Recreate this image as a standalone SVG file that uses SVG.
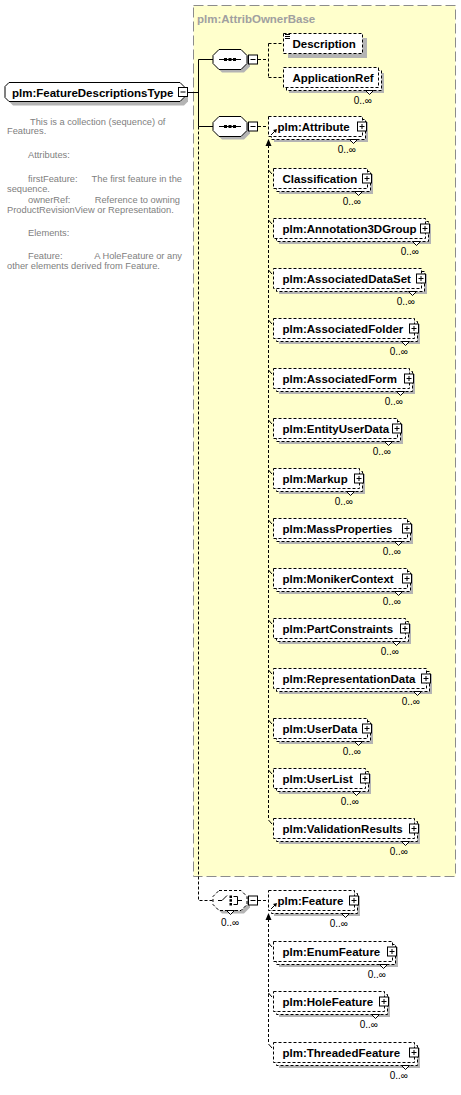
<svg xmlns="http://www.w3.org/2000/svg" width="461" height="1095" viewBox="0 0 461 1095">
<style>
.bg{fill:#ffffcc;stroke:#8c8c8c;stroke-dasharray:10 4}
.sh{fill:#b4b4b4}
.bx{fill:#fff;stroke:#000;stroke-dasharray:3 2}
.sb{fill:#fff;stroke:#000}
.nt{fill:#fff;stroke:#000}
.lbl{font-family:"Liberation Sans",Arial,sans-serif;font-weight:bold;font-size:11.5px;fill:#000}
.occ{font-family:"Liberation Sans",Arial,sans-serif;font-size:10px;fill:#000}
.ttl{font-family:"Liberation Sans",Arial,sans-serif;font-weight:bold;font-size:11.5px;fill:#a0a0a0}
.d{font-family:"Liberation Sans",Arial,sans-serif;font-size:9.3px;fill:#808080}
.pm{fill:#fff;stroke:#000}
.ln{fill:none;stroke:#000}
.dl{fill:none;stroke:#000;stroke-dasharray:3 2}
</style>
<rect class="bg" x="193.5" y="5.5" width="262" height="871"/>
<text class="ttl" x="197" y="23">plm:AttribOwnerBase</text>

<g id="connectors">
<path class="ln" d="M188 92.5H198.5M198.5 59.5V126.5M198.5 59.5H213M198.5 126.5H213"/>
<path class="dl" d="M198.5 126.5V900.5H213"/>
<path class="dl" d="M258 59.5H268.5M268.5 43.5V77.5M268.5 43.5H283M268.5 77.5H283"/>
<path class="dl" d="M258 126.5H268"/>
<path class="dl" d="M268.5 145V820"/>
<polygon points="265.5,146 268.5,139 271.5,146" fill="#000"/>
<path class="ln" d="M268.5 170L272 174M268.5 220L272 224M268.5 270L272 274M268.5 320L272 324M268.5 370L272 374M268.5 420L272 424M268.5 470L272 474M268.5 520L272 524M268.5 570L272 574M268.5 620L272 624M268.5 670L272 674M268.5 720L272 724M268.5 770L272 774M268.5 820L272 824"/>
<path class="dl" d="M258 900.5H268"/>
<path class="dl" d="M268.5 919V1044"/>
<polygon points="265.5,920 268.5,913 271.5,920" fill="#000"/>
<path class="ln" d="M268.5 943L272 947M268.5 993L272 997M268.5 1044L272 1048"/>
</g>

<g id="n-main">
<polygon class="sh" points="13,86.5 184,86.5 188,90.5 188,101.5 184,105.5 13,105.5 9,101.5 9,90.5"/>
<polygon class="sb" points="9,82.5 180,82.5 184,86.5 184,97.5 180,101.5 9,101.5 5,97.5 5,86.5"/>
<text class="lbl" x="12" y="96.5">plm:FeatureDescriptionsType</text>
<rect class="pm" x="178.5" y="87.5" width="9" height="9"/>
<path class="ln" d="M180.5 92H185.5"/>
</g>

<g id="n-doc">
<text class="d" x="30" y="125">This is a collection (sequence) of</text>
<text class="d" x="7" y="134">Features.</text>
<text class="d" x="28" y="158">Attributes:</text>
<text class="d" x="28" y="182">firstFeature:</text>
<text class="d" x="182" y="182" text-anchor="end">The first feature in the</text>
<text class="d" x="7" y="192">sequence.</text>
<text class="d" x="28" y="203">ownerRef:</text>
<text class="d" x="180" y="203" text-anchor="end">Reference to owning</text>
<text class="d" x="7" y="213">ProductRevisionView or Representation.</text>
<text class="d" x="28" y="236">Elements:</text>
<text class="d" x="28" y="259">Feature:</text>
<text class="d" x="182" y="259" text-anchor="end">A HoleFeature or any</text>
<text class="d" x="7" y="269">other elements derived from Feature.</text>
</g>

<g id="n-seq1">
<polygon class="sh" points="222,52.5 244,52.5 250,58.5 250,66.5 244,72.5 222,72.5 216,66.5 216,58.5"/>
<polygon class="sb" points="219,49.5 241,49.5 247,55.5 247,63.5 241,69.5 219,69.5 213,63.5 213,55.5"/>
<path class="ln" d="M219 59.5H241"/>
<rect x="224" y="58" width="3" height="3"/><rect x="228.5" y="58" width="3" height="3"/><rect x="233" y="58" width="3" height="3"/>
<rect class="pm" x="248.5" y="55" width="9" height="9"/>
<path class="ln" d="M250.5 59.5H255.5"/>
</g>

<g id="n-seq2">
<polygon class="sh" points="222,119.5 244,119.5 250,125.5 250,133.5 244,139.5 222,139.5 216,133.5 216,125.5"/>
<polygon class="sb" points="219,116.5 241,116.5 247,122.5 247,130.5 241,136.5 219,136.5 213,130.5 213,122.5"/>
<path class="ln" d="M219 126.5H241"/>
<rect x="224" y="125" width="3" height="3"/><rect x="228.5" y="125" width="3" height="3"/><rect x="233" y="125" width="3" height="3"/>
<rect class="pm" x="248.5" y="122" width="9" height="9"/>
<path class="ln" d="M250.5 126.5H255.5"/>
</g>

<g id="n-description">
<rect class="sh" x="288" y="38" width="79" height="20"/>
<rect class="bx" x="283.5" y="33.5" width="79" height="20"/>
<path class="ln" d="M285 34.5H290M285 36.5H290M285 38.5H290"/>
<text class="lbl" x="292.5" y="47.5">Description</text>
</g>

<g id="n-applicationref">
<rect class="sh" x="289" y="73" width="95" height="20"/>
<rect class="bx" x="286.5" y="70.5" width="95" height="20"/>
<rect class="bx" x="283.5" y="67.5" width="95" height="20"/>
<polygon class="nt" points="365.5,90.5 369.5,94.5 373.5,90.5"/>
<text class="lbl" x="292.5" y="81.5">ApplicationRef</text>
<text class="occ" x="372" y="104" text-anchor="end">0..∞</text>
</g>

<g id="n-attribute">
<rect class="sh" x="274" y="122" width="94" height="20"/>
<rect class="bx" x="271.5" y="119.5" width="94" height="20"/>
<rect class="bx" x="268.5" y="116.5" width="94" height="20"/>
<polygon class="nt" points="349.5,139.5 353.5,143.5 357.5,139.5"/>
<text class="lbl" x="277.5" y="130.5">plm:Attribute</text>
<path class="ln" d="M271 135L275.5 130.5"/><polygon points="273,130 277,129 276,133"/>
<rect class="pm" x="357.5" y="122" width="9" height="9"/>
<path class="ln" d="M359.5 126.5H364.5M362 124V129"/>
<text class="occ" x="356" y="153" text-anchor="end">0..∞</text>
</g>

<g id="n-classification">
<rect class="sh" x="279" y="174" width="94" height="20"/>
<rect class="bx" x="276.5" y="171.5" width="94" height="20"/>
<rect class="bx" x="273.5" y="168.5" width="94" height="20"/>
<polygon class="nt" points="354.5,191.5 358.5,195.5 362.5,191.5"/>
<text class="lbl" x="282.5" y="182.5">Classification</text>
<rect class="pm" x="362.5" y="174" width="9" height="9"/>
<path class="ln" d="M364.5 178.5H369.5M367 176V181"/>
<text class="occ" x="361" y="205" text-anchor="end">0..∞</text>
</g>

<g id="n-annotation3dgroup">
<rect class="sh" x="279" y="224" width="152" height="20"/>
<rect class="bx" x="276.5" y="221.5" width="152" height="20"/>
<rect class="bx" x="273.5" y="218.5" width="152" height="20"/>
<polygon class="nt" points="412.5,241.5 416.5,245.5 420.5,241.5"/>
<text class="lbl" x="282.5" y="232.5">plm:Annotation3DGroup</text>
<rect class="pm" x="420.5" y="224" width="9" height="9"/>
<path class="ln" d="M422.5 228.5H427.5M425 226V231"/>
<text class="occ" x="419" y="255" text-anchor="end">0..∞</text>
</g>

<g id="n-associateddataset">
<rect class="sh" x="279" y="274" width="148" height="20"/>
<rect class="bx" x="276.5" y="271.5" width="148" height="20"/>
<rect class="bx" x="273.5" y="268.5" width="148" height="20"/>
<polygon class="nt" points="408.5,291.5 412.5,295.5 416.5,291.5"/>
<text class="lbl" x="282.5" y="282.5">plm:AssociatedDataSet</text>
<rect class="pm" x="416.5" y="274" width="9" height="9"/>
<path class="ln" d="M418.5 278.5H423.5M421 276V281"/>
<text class="occ" x="415" y="305" text-anchor="end">0..∞</text>
</g>

<g id="n-associatedfolder">
<rect class="sh" x="279" y="324" width="141" height="20"/>
<rect class="bx" x="276.5" y="321.5" width="141" height="20"/>
<rect class="bx" x="273.5" y="318.5" width="141" height="20"/>
<polygon class="nt" points="401.5,341.5 405.5,345.5 409.5,341.5"/>
<text class="lbl" x="282.5" y="332.5">plm:AssociatedFolder</text>
<rect class="pm" x="409.5" y="324" width="9" height="9"/>
<path class="ln" d="M411.5 328.5H416.5M414 326V331"/>
<text class="occ" x="408" y="355" text-anchor="end">0..∞</text>
</g>

<g id="n-associatedform">
<rect class="sh" x="279" y="374" width="136" height="20"/>
<rect class="bx" x="276.5" y="371.5" width="136" height="20"/>
<rect class="bx" x="273.5" y="368.5" width="136" height="20"/>
<polygon class="nt" points="396.5,391.5 400.5,395.5 404.5,391.5"/>
<text class="lbl" x="282.5" y="382.5">plm:AssociatedForm</text>
<rect class="pm" x="404.5" y="374" width="9" height="9"/>
<path class="ln" d="M406.5 378.5H411.5M409 376V381"/>
<text class="occ" x="403" y="405" text-anchor="end">0..∞</text>
</g>

<g id="n-entityuserdata">
<rect class="sh" x="279" y="424" width="124" height="20"/>
<rect class="bx" x="276.5" y="421.5" width="124" height="20"/>
<rect class="bx" x="273.5" y="418.5" width="124" height="20"/>
<polygon class="nt" points="384.5,441.5 388.5,445.5 392.5,441.5"/>
<text class="lbl" x="282.5" y="432.5">plm:EntityUserData</text>
<rect class="pm" x="392.5" y="424" width="9" height="9"/>
<path class="ln" d="M394.5 428.5H399.5M397 426V431"/>
<text class="occ" x="391" y="455" text-anchor="end">0..∞</text>
</g>

<g id="n-markup">
<rect class="sh" x="279" y="474" width="86" height="20"/>
<rect class="bx" x="276.5" y="471.5" width="86" height="20"/>
<rect class="bx" x="273.5" y="468.5" width="86" height="20"/>
<polygon class="nt" points="346.5,491.5 350.5,495.5 354.5,491.5"/>
<text class="lbl" x="282.5" y="482.5">plm:Markup</text>
<rect class="pm" x="354.5" y="474" width="9" height="9"/>
<path class="ln" d="M356.5 478.5H361.5M359 476V481"/>
<text class="occ" x="353" y="505" text-anchor="end">0..∞</text>
</g>

<g id="n-massproperties">
<rect class="sh" x="279" y="524" width="134" height="20"/>
<rect class="bx" x="276.5" y="521.5" width="134" height="20"/>
<rect class="bx" x="273.5" y="518.5" width="134" height="20"/>
<polygon class="nt" points="394.5,541.5 398.5,545.5 402.5,541.5"/>
<text class="lbl" x="282.5" y="532.5">plm:MassProperties</text>
<rect class="pm" x="402.5" y="524" width="9" height="9"/>
<path class="ln" d="M404.5 528.5H409.5M407 526V531"/>
<text class="occ" x="401" y="555" text-anchor="end">0..∞</text>
</g>

<g id="n-monikercontext">
<rect class="sh" x="279" y="574" width="134" height="20"/>
<rect class="bx" x="276.5" y="571.5" width="134" height="20"/>
<rect class="bx" x="273.5" y="568.5" width="134" height="20"/>
<polygon class="nt" points="394.5,591.5 398.5,595.5 402.5,591.5"/>
<text class="lbl" x="282.5" y="582.5">plm:MonikerContext</text>
<rect class="pm" x="402.5" y="574" width="9" height="9"/>
<path class="ln" d="M404.5 578.5H409.5M407 576V581"/>
<text class="occ" x="401" y="605" text-anchor="end">0..∞</text>
</g>

<g id="n-partconstraints">
<rect class="sh" x="279" y="624" width="132" height="20"/>
<rect class="bx" x="276.5" y="621.5" width="132" height="20"/>
<rect class="bx" x="273.5" y="618.5" width="132" height="20"/>
<polygon class="nt" points="392.5,641.5 396.5,645.5 400.5,641.5"/>
<text class="lbl" x="282.5" y="632.5">plm:PartConstraints</text>
<rect class="pm" x="400.5" y="624" width="9" height="9"/>
<path class="ln" d="M402.5 628.5H407.5M405 626V631"/>
<text class="occ" x="399" y="655" text-anchor="end">0..∞</text>
</g>

<g id="n-representationdata">
<rect class="sh" x="279" y="674" width="153" height="20"/>
<rect class="bx" x="276.5" y="671.5" width="153" height="20"/>
<rect class="bx" x="273.5" y="668.5" width="153" height="20"/>
<polygon class="nt" points="413.5,691.5 417.5,695.5 421.5,691.5"/>
<text class="lbl" x="282.5" y="682.5">plm:RepresentationData</text>
<rect class="pm" x="421.5" y="674" width="9" height="9"/>
<path class="ln" d="M423.5 678.5H428.5M426 676V681"/>
<text class="occ" x="420" y="705" text-anchor="end">0..∞</text>
</g>

<g id="n-userdata">
<rect class="sh" x="279" y="724" width="94" height="20"/>
<rect class="bx" x="276.5" y="721.5" width="94" height="20"/>
<rect class="bx" x="273.5" y="718.5" width="94" height="20"/>
<polygon class="nt" points="354.5,741.5 358.5,745.5 362.5,741.5"/>
<text class="lbl" x="282.5" y="732.5">plm:UserData</text>
<rect class="pm" x="362.5" y="724" width="9" height="9"/>
<path class="ln" d="M364.5 728.5H369.5M367 726V731"/>
<text class="occ" x="361" y="755" text-anchor="end">0..∞</text>
</g>

<g id="n-userlist">
<rect class="sh" x="279" y="774" width="92" height="20"/>
<rect class="bx" x="276.5" y="771.5" width="92" height="20"/>
<rect class="bx" x="273.5" y="768.5" width="92" height="20"/>
<polygon class="nt" points="352.5,791.5 356.5,795.5 360.5,791.5"/>
<text class="lbl" x="282.5" y="782.5">plm:UserList</text>
<rect class="pm" x="360.5" y="774" width="9" height="9"/>
<path class="ln" d="M362.5 778.5H367.5M365 776V781"/>
<text class="occ" x="359" y="805" text-anchor="end">0..∞</text>
</g>

<g id="n-validationresults">
<rect class="sh" x="279" y="824" width="141" height="20"/>
<rect class="bx" x="276.5" y="821.5" width="141" height="20"/>
<rect class="bx" x="273.5" y="818.5" width="141" height="20"/>
<polygon class="nt" points="401.5,841.5 405.5,845.5 409.5,841.5"/>
<text class="lbl" x="282.5" y="832.5">plm:ValidationResults</text>
<rect class="pm" x="409.5" y="824" width="9" height="9"/>
<path class="ln" d="M411.5 828.5H416.5M414 826V831"/>
<text class="occ" x="408" y="855" text-anchor="end">0..∞</text>
</g>

<g id="n-choice">
<polygon class="sh" points="222,893.5 244,893.5 250,899.5 250,907.5 244,913.5 222,913.5 216,907.5 216,899.5"/>
<polygon class="bx" points="219,890.5 241,890.5 247,896.5 247,904.5 241,910.5 219,910.5 213,904.5 213,896.5"/>
<polygon class="nt" points="226.5,910.5 230.5,914.5 234.5,910.5"/>
<path class="ln" d="M218 900.5H222L227 895.5M233.5 896.5H237.5V904.5H233.5M237.5 900.5H242"/>
<rect x="229.5" y="895.5" width="2.5" height="2.5"/><rect x="229.5" y="899.2" width="2.5" height="2.5"/><rect x="229.5" y="903" width="2.5" height="2.5"/>
<rect class="pm" x="248.5" y="896" width="9" height="9"/>
<path class="ln" d="M250.5 900.5H255.5"/>
<text class="occ" x="230" y="926" text-anchor="middle">0..∞</text>
</g>

<g id="n-feature">
<rect class="sh" x="274" y="896" width="86" height="20"/>
<rect class="bx" x="271.5" y="893.5" width="86" height="20"/>
<rect class="bx" x="268.5" y="890.5" width="86" height="20"/>
<polygon class="nt" points="341.5,913.5 345.5,917.5 349.5,913.5"/>
<text class="lbl" x="277.5" y="904.5">plm:Feature</text>
<path class="ln" d="M271 909L275.5 904.5"/><polygon points="273,904 277,903 276,907"/>
<rect class="pm" x="349.5" y="896" width="9" height="9"/>
<path class="ln" d="M351.5 900.5H356.5M354 898V903"/>
<text class="occ" x="348" y="927" text-anchor="end">0..∞</text>
</g>

<g id="n-enumfeature">
<rect class="sh" x="279" y="947" width="119" height="20"/>
<rect class="bx" x="276.5" y="944.5" width="119" height="20"/>
<rect class="bx" x="273.5" y="941.5" width="119" height="20"/>
<polygon class="nt" points="379.5,964.5 383.5,968.5 387.5,964.5"/>
<text class="lbl" x="282.5" y="955.5">plm:EnumFeature</text>
<rect class="pm" x="387.5" y="947" width="9" height="9"/>
<path class="ln" d="M389.5 951.5H394.5M392 949V954"/>
<text class="occ" x="386" y="978" text-anchor="end">0..∞</text>
</g>

<g id="n-holefeature">
<rect class="sh" x="279" y="997" width="111" height="20"/>
<rect class="bx" x="276.5" y="994.5" width="111" height="20"/>
<rect class="bx" x="273.5" y="991.5" width="111" height="20"/>
<polygon class="nt" points="371.5,1014.5 375.5,1018.5 379.5,1014.5"/>
<text class="lbl" x="282.5" y="1005.5">plm:HoleFeature</text>
<rect class="pm" x="379.5" y="997" width="9" height="9"/>
<path class="ln" d="M381.5 1001.5H386.5M384 999V1004"/>
<text class="occ" x="378" y="1028" text-anchor="end">0..∞</text>
</g>

<g id="n-threadedfeature">
<rect class="sh" x="279" y="1048" width="141" height="20"/>
<rect class="bx" x="276.5" y="1045.5" width="141" height="20"/>
<rect class="bx" x="273.5" y="1042.5" width="141" height="20"/>
<polygon class="nt" points="401.5,1065.5 405.5,1069.5 409.5,1065.5"/>
<text class="lbl" x="282.5" y="1056.5">plm:ThreadedFeature</text>
<rect class="pm" x="409.5" y="1048" width="9" height="9"/>
<path class="ln" d="M411.5 1052.5H416.5M414 1050V1055"/>
<text class="occ" x="408" y="1079" text-anchor="end">0..∞</text>
</g>
</svg>
